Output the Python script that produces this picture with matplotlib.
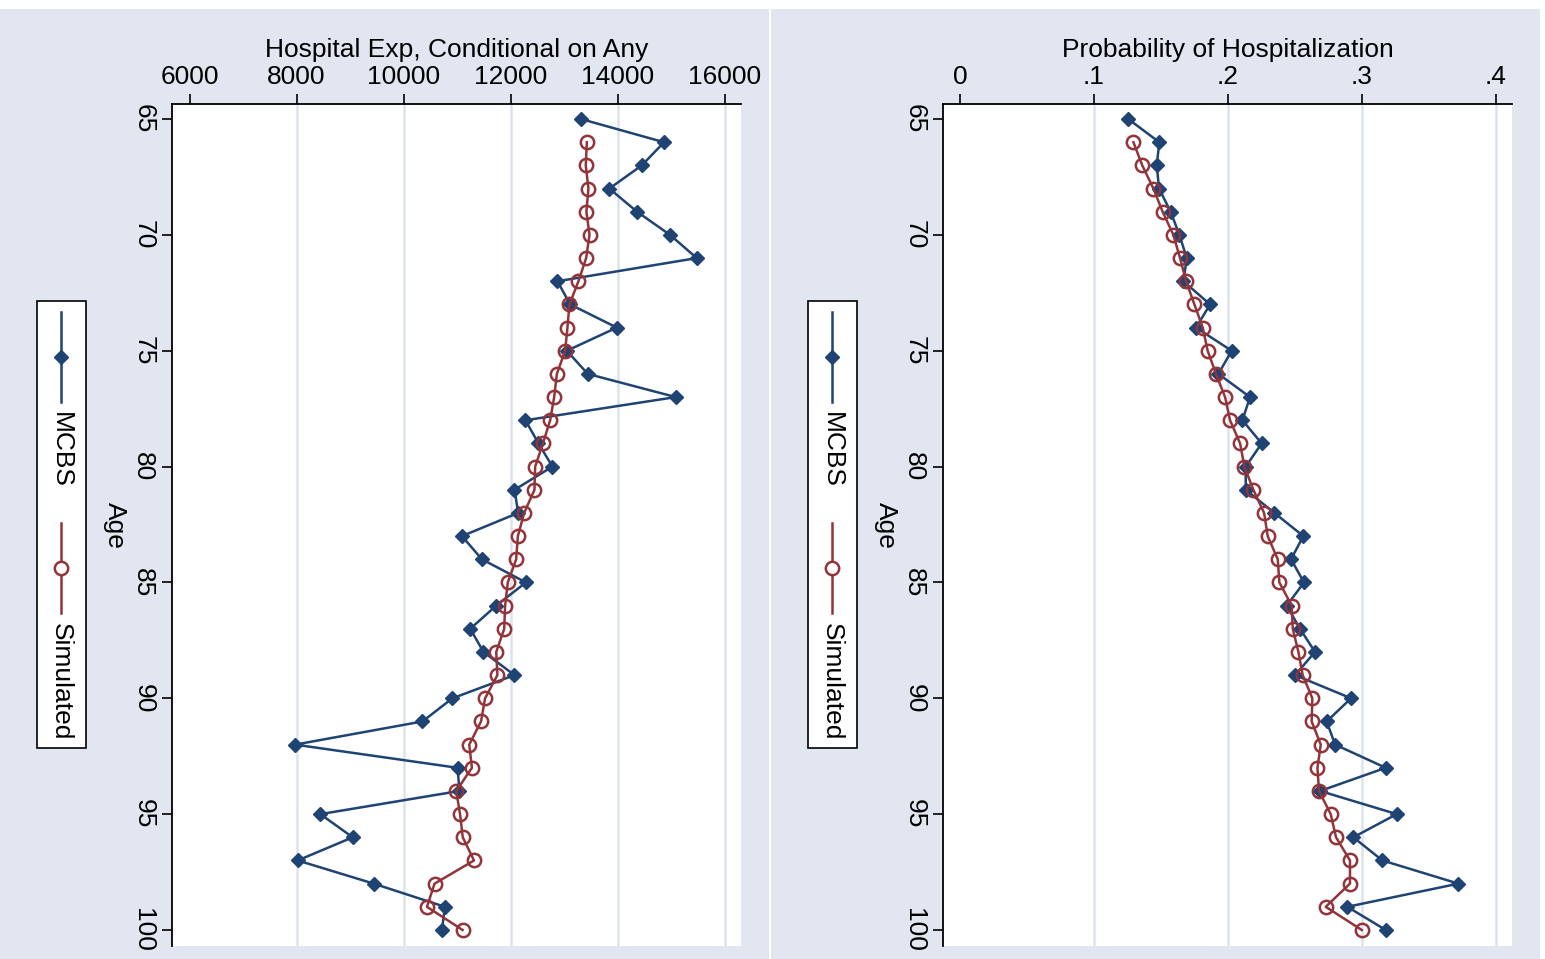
import matplotlib
matplotlib.use("Agg")
import matplotlib.pyplot as plt
from matplotlib.patches import Rectangle
from matplotlib.lines import Line2D

W, H = 1545, 959
DPI = 100

BLUE = "#1f4373"
RED = "#923439"
BG = "#e1e6f1"
GRID = "#dce3ef"

# ---- data ----
ages = list(range(65, 101))
ages_sim = list(range(66, 101))

exp_mcbs = [13313, 14862, 14446, 13840, 14358, 14974, 15472, 12872, 13108, 13980,
            13046, 13438, 15080, 12274, 12517, 12778, 12069, 12138, 11088, 11460,
            12282, 11728, 11243, 11490, 12069, 10910, 10350, 7972, 11005, 11042,
            8444, 9047, 8020, 9440, 10770, 10714]
exp_sim = [13420, 13400, 13450, 13412, 13470, 13407, 13263, 13095, 13058, 13015,
           12860, 12810, 12735, 12600, 12455, 12442, 12250, 12132, 12100, 11944,
           11894, 11877, 11728, 11750, 11520, 11444, 11224, 11274, 10981, 11052,
           11103, 11313, 10576, 10434, 11100]

prob_mcbs = [0.1256, 0.1487, 0.1468, 0.1485, 0.1572, 0.1637, 0.1692, 0.1667, 0.1866, 0.1761,
             0.2027, 0.1928, 0.2164, 0.2107, 0.2251, 0.2132, 0.2132, 0.2346, 0.2562, 0.2470,
             0.2567, 0.2438, 0.2537, 0.2649, 0.2500, 0.2918, 0.2736, 0.2799, 0.3177, 0.2687,
             0.3259, 0.2935, 0.3152, 0.3719, 0.2890, 0.3177]
prob_sim = [0.1294, 0.1360, 0.1443, 0.1512, 0.1592, 0.1642, 0.1687, 0.1749, 0.1811, 0.1848,
            0.1910, 0.1978, 0.2015, 0.2090, 0.2122, 0.2189, 0.2269, 0.2296, 0.2371, 0.2383,
            0.2475, 0.2483, 0.2525, 0.2557, 0.2629, 0.2624, 0.2692, 0.2667, 0.2679, 0.2766,
            0.2806, 0.2910, 0.2910, 0.2729, 0.2998]

age_ticks = [65, 70, 75, 80, 85, 90, 95, 100]
exp_ticks = [6000, 8000, 10000, 12000, 14000, 16000]
exp_labels = ["6000", "8000", "10000", "12000", "14000", "16000"]
prob_ticks = [0, 0.1, 0.2, 0.3, 0.4]
prob_labels = ["0", ".1", ".2", ".3", ".4"]

plt.rcParams.update({
    "font.family": "Liberation Sans",
    "font.size": 19,
})

fig = plt.figure(figsize=(W / DPI, H / DPI), dpi=DPI, facecolor="white")

LW = 1.8
MS_D = 7.6
MS_O = 9.6


def fx(px):
    return px / W


def fy(py):
    return 1 - py / H


def draw_panel(off, mcbs, sim, xlim, xticks, xlabels, title):
    # graph region
    fig.add_artist(Rectangle((fx(off), 0), 769 / W, fy(9), transform=fig.transFigure,
                             facecolor=BG, edgecolor="none", zorder=0))

    ax = fig.add_axes([fx(172 + off), fy(945.5), 569 / W, 841.5 / H])
    ax.set_facecolor("white")
    # age runs down the vertical axis
    ax.plot(mcbs, ages, color=BLUE, lw=LW, marker="D", ms=MS_D, mfc=BLUE, mec=BLUE, zorder=3)
    ax.plot(sim, ages_sim, color=RED, lw=LW, marker="o", ms=MS_O, mfc="none", mec=RED,
            mew=1.8, zorder=4)

    ax.set_xlim(*xlim)
    ax.set_ylim(100.67, 64.35)
    ax.xaxis.tick_top()
    ax.xaxis.set_label_position("top")
    ax.set_xticks(xticks)
    ax.set_xticklabels(xlabels)
    ax.set_yticks(age_ticks)
    ax.set_yticklabels([str(a) for a in age_ticks], rotation=-90, va="center", ha="right")
    ax.tick_params(axis="both", direction="out", length=7, width=1.2, pad=5, colors="black")
    ax.tick_params(axis="x", pad=3.5)
    ax.set_xlabel(title, labelpad=6)

    for s in ("right", "bottom"):
        ax.spines[s].set_visible(False)
    for s in ("top", "left"):
        ax.spines[s].set_linewidth(1.3)

    ax.grid(axis="x", color=GRID, lw=1.8)
    ax.set_axisbelow(True)
    ax.get_xgridlines()[0].set_visible(False)

    fig.text(fx(115 + off), fy(525), "Age", rotation=-90, ha="center", va="center")

    # legend (rotated, like the original)
    fig.add_artist(Rectangle((fx(37 + off), fy(748)), 49 / W, 447 / H,
                             transform=fig.transFigure, facecolor="white",
                             edgecolor="black", lw=1.2, zorder=2))
    lx = fx(61 + off)
    fig.add_artist(Line2D([lx, lx], [fy(312), fy(402)], transform=fig.transFigure,
                          color=BLUE, lw=LW, zorder=3))
    fig.add_artist(Line2D([lx], [fy(357)], transform=fig.transFigure, marker="D", ms=MS_D,
                          color=BLUE, zorder=3))
    fig.add_artist(Line2D([lx, lx], [fy(523), fy(613)], transform=fig.transFigure,
                          color=RED, lw=LW, zorder=3))
    fig.add_artist(Line2D([lx], [fy(568)], transform=fig.transFigure, marker="o", ms=MS_O,
                          mfc="white", mec=RED, mew=1.8, zorder=3))
    fig.text(lx, fy(450), "MCBS", rotation=-90, ha="center", va="center", zorder=4)
    fig.text(lx, fy(681.5), "Simulated", rotation=-90, ha="center", va="center", zorder=4)
    return ax


draw_panel(0, exp_mcbs, exp_sim, (5673, 16299), exp_ticks, exp_labels,
           "Hospital Exp, Conditional on Any")
draw_panel(771, prob_mcbs, prob_sim, (-0.0127, 0.4119), prob_ticks, prob_labels,
           "Probability of Hospitalization")

fig.savefig("out.png", dpi=DPI, facecolor="white")
